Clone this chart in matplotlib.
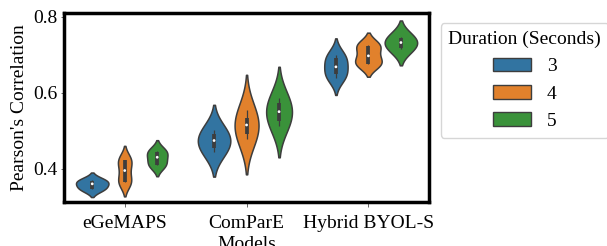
import numpy as np
import matplotlib
matplotlib.use("Agg")
import matplotlib.pyplot as plt
from matplotlib.patches import Patch

# ---------------- data ----------------
models = ["eGeMAPS", "ComParE", "Hybrid BYOL-S"]
durations = ["3", "4", "5"]

# per-fold Pearson correlations for each model / clip duration
egemaps_3 = [0.346, 0.347, 0.360, 0.368, 0.369]
egemaps_4 = [0.364, 0.365, 0.395, 0.422, 0.423]
egemaps_5 = [0.409, 0.410, 0.430, 0.445, 0.446]
compare_3 = [0.445, 0.454, 0.474, 0.491, 0.502]
compare_4 = [0.477, 0.491, 0.515, 0.533, 0.555]
compare_5 = [0.513, 0.526, 0.550, 0.572, 0.585]
hybrid_3 = [0.638, 0.648, 0.668, 0.690, 0.699]
hybrid_4 = [0.675, 0.676, 0.697, 0.724, 0.725]
hybrid_5 = [0.716, 0.717, 0.732, 0.745, 0.746]

# KDE bandwidth of each violin (model x duration)
egemaps_bw = [0.0104, 0.0185, 0.0145]
compare_bw = [0.0330, 0.0460, 0.0416]
hybrid_bw = [0.0220, 0.0165, 0.0220]

yticks = [0.4, 0.6, 0.8]
ylabel = "Pearson's Correlation"
xlabel = "Models"
legend_title = "Duration (Seconds)"

# ---------------- styling ----------------
colors = ["#3274A1", "#E1812C", "#3A923A"]
gray = "#3d3d3d"
plt.rcParams["font.family"] = ["Liberation Serif", "DejaVu Serif"]

groups = [
    [egemaps_3, egemaps_4, egemaps_5],
    [compare_3, compare_4, compare_5],
    [hybrid_3, hybrid_4, hybrid_5],
]
bws = [egemaps_bw, compare_bw, hybrid_bw]


def kde(vals, bw, cut=2.0, n=200):
    vals = np.asarray(vals, dtype=float)
    support = np.linspace(vals.min() - cut * bw, vals.max() + cut * bw, n)
    z = (support[:, None] - vals[None, :]) / bw
    dens = np.exp(-0.5 * z ** 2).sum(axis=1) / (len(vals) * bw * np.sqrt(2 * np.pi))
    return support, dens


fig = plt.figure(figsize=(6.07, 2.46), dpi=100)
ax = fig.add_axes([0.1051, 0.1801, 0.6022, 0.7659])

width = 0.8
n_h = len(durations)
each = width / n_h
offsets = np.linspace(0, width - each, n_h) - (width - each) / 2
dwidth = each / 2

for i, model in enumerate(models):
    curves = [kde(groups[i][j], bws[i][j]) for j in range(n_h)]
    maxd = max(c[1].max() for c in curves)
    for j in range(n_h):
        support, dens = curves[j]
        d = dens / maxd
        center = i + offsets[j]
        ax.fill_betweenx(support, center - d * dwidth, center + d * dwidth,
                         facecolor=colors[j], edgecolor=gray, linewidth=1.1, zorder=2)
        vals = np.asarray(groups[i][j])
        q25, q50, q75 = np.percentile(vals, [25, 50, 75])
        lim = 1.5 * (q75 - q25)
        h1 = vals[vals >= q25 - lim].min()
        h2 = vals[vals <= q75 + lim].max()
        ax.plot([center, center], [h1, h2], color=gray, linewidth=0.9, zorder=3,
                solid_capstyle="butt")
        ax.plot([center, center], [q25, q75], color=gray, linewidth=2.7, zorder=3,
                solid_capstyle="butt")
        ax.scatter([center], [q50], s=4, color="white", edgecolor="none", zorder=4)

ax.set_xlim(-0.5, len(models) - 0.5)
ax.set_ylim(0.313, 0.809)
ax.set_xticks(range(len(models)))
ax.set_xticklabels(models)
ax.set_yticks(yticks)
ax.set_yticklabels([f"{v:.1f}" for v in yticks])
ax.tick_params(axis="both", labelsize=14, width=0.6, color="0.3")
ax.tick_params(axis="y", length=2.5, pad=2)
ax.tick_params(axis="x", length=3.5, pad=6)
ax.set_ylabel(ylabel, fontsize=14)
ax.set_xlabel(xlabel, fontsize=14, labelpad=3)
for sp in ax.spines.values():
    sp.set_linewidth(2.5)
    sp.set_color("black")

handles = [Patch(facecolor=colors[j], edgecolor=gray, linewidth=1.0) for j in range(n_h)]
leg = ax.legend(handles, durations, title=legend_title, loc="upper left",
                bbox_to_anchor=(1.004, 1.0), fontsize=14, title_fontsize=14,
                frameon=True)

fig.savefig("out.png", dpi=100)
